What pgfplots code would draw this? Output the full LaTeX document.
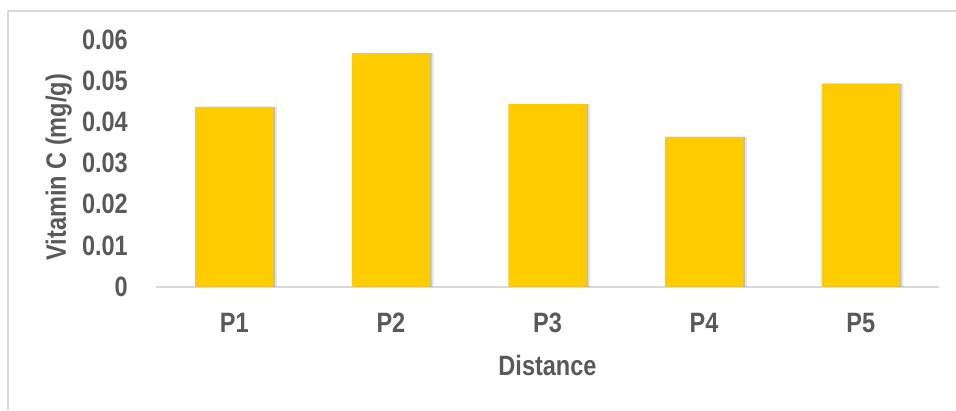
\documentclass[border=0pt]{standalone}
\usepackage{pgfplots}
\pgfplotsset{compat=1.18}
\usepackage{fontspec}
\setmainfont[FakeStretch=0.84]{Liberation Sans}

\definecolor{barfill}{HTML}{FFCC00}
\definecolor{txtgrey}{HTML}{595959}
\definecolor{linegrey}{HTML}{D9D9D9}

\pgfplotstableread{
x  label  value
0  P1     0.0437
1  P2     0.0568
2  P3     0.0444
3  P4     0.0364
4  P5     0.0494
}\vitc

\begin{document}
\begin{tikzpicture}[x=1pt,y=1pt]
\path[use as bounding box] (0,0) rectangle (956,410);
% chart frame
\draw[linegrey, line width=1.2pt] (8,0) -- (8,399) -- (956,399);
\begin{axis}[
  at={(156pt,123.5pt)}, anchor=south west,
  scale only axis, width=783pt, height=246.5pt,
  xmin=-0.5, xmax=4.5, ymin=0, ymax=0.06,
  xtick={0,1,2,3,4}, xticklabels={P1,P2,P3,P4,P5},
  ytick={0,0.01,0.02,0.03,0.04,0.05,0.06},
  scaled y ticks=false,
  /pgf/number format/fixed, /pgf/number format/precision=2,
  /pgf/number format/assume math mode=true,
  axis x line*=bottom, axis y line*=left,
  x axis line style={draw=linegrey, line width=2pt, -},
  y axis line style={draw=none},
  major tick length=0pt,
  tick style={draw=none},
  font=\fontsize{28}{30}\selectfont\bfseries,
  tick label style={text=txtgrey},
  xticklabel style={inner sep=0pt, anchor=north, yshift=-26.5pt},
  yticklabel style={inner sep=0pt, anchor=east, xshift=-28pt},
  xlabel={Distance},
  ylabel={Vitamin C (mg/g)},
  label style={text=txtgrey, inner sep=0pt},
  xlabel style={at={(axis description cs:0.5,0)}, anchor=north, yshift=-68.5pt},
  ylabel style={at={([xshift=-84pt,yshift=-4pt]axis description cs:0,0.5)}, anchor=south},
  ybar, bar width=0.5,
]
\addplot[
  fill=barfill, draw=none,
  preaction={fill=black, opacity=0.10, transform canvas={xshift=3.5pt}},
  preaction={fill=black, opacity=0.18, transform canvas={xshift=1.5pt}},
] table[x=x, y=value] {\vitc};
\end{axis}
\end{tikzpicture}
\end{document}
